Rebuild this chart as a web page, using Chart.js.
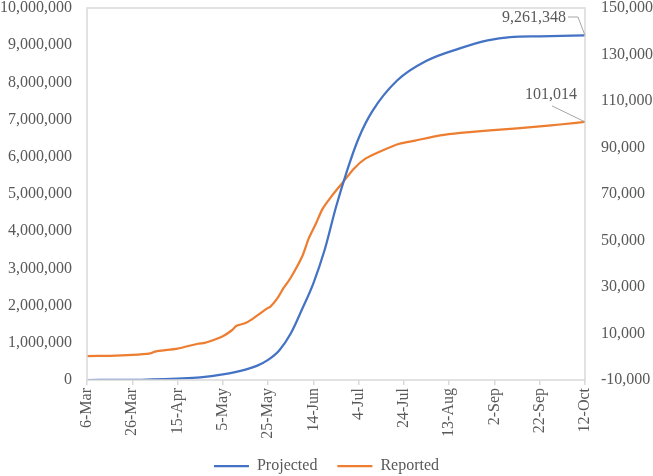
<!DOCTYPE html>
<html>
<head>
<meta charset="utf-8">
<script src="https://cdn.jsdelivr.net/npm/chart.js@4.4.1/dist/chart.umd.min.js"></script>
<style>
  html, body { margin: 0; padding: 0; background: #fff; }
  #wrap { width: 653px; height: 476px; }
</style>
</head>
<body>
<div id="wrap"><canvas id="chart"></canvas></div>
<script>
// x = days since 6-Mar
const dateLabels = ['6-Mar', '26-Mar', '15-Apr', '5-May', '25-May', '14-Jun', '4-Jul', '24-Jul', '13-Aug', '2-Sep', '22-Sep', '12-Oct'];
const dateTicks = [0, 20, 40, 60, 80, 100, 120, 140, 160, 180, 200, 220];

const projDays = [0, 20, 40, 50, 60, 70, 75, 80, 85, 90, 95, 100, 105, 110, 115, 120, 126, 137, 150, 165, 177, 187, 200, 220];
const projValues = [0, 5000, 40000, 70000, 150000, 280000, 380000, 540000, 800000, 1250000, 1900000, 2600000, 3500000, 4650000, 5650000, 6500000, 7220000, 8050000, 8580000, 8920000, 9130000, 9220000, 9240000, 9261348];

const repDays = [0, 10, 20, 28, 30, 40, 49, 52, 55, 60, 64, 66, 70, 73, 77, 80, 81, 84, 87, 90, 95, 98, 101, 104, 108, 113, 118, 123, 130, 138, 145, 156, 165, 178, 190, 200, 210, 220];
const repValues = [300, 400, 800, 1500, 2200, 3500, 5600, 6000, 6900, 8800, 11400, 13300, 14500, 16200, 19000, 21000, 21500, 25000, 29800, 34000, 43000, 51000, 57000, 63500, 69000, 75000, 81000, 85200, 88500, 91600, 93000, 95200, 96300, 97400, 98200, 99100, 100000, 101014];

const leftTicks = [0, 1000000, 2000000, 3000000, 4000000, 5000000, 6000000, 7000000, 8000000, 9000000, 10000000];
const rightTicks = [-10000, 10000, 30000, 50000, 70000, 90000, 110000, 130000, 150000];

const fmt = v => v.toLocaleString('en-US');
const FONT = "'Liberation Serif', 'Times New Roman', serif";
const TXT = '#595959';
const LINE = '#d9d9d9';

// box round the plot area and the two end labels
const extras = {
    id: 'extras',
    afterDatasetsDraw(chart) {
        const { ctx, chartArea: a } = chart;
        ctx.save();
        ctx.strokeStyle = LINE;
        ctx.lineWidth = 1.5;
        ctx.strokeRect(a.left, a.top, a.right - a.left, a.bottom - a.top);

        ctx.font = '16px ' + FONT;
        ctx.fillStyle = TXT;
        ctx.strokeStyle = '#a6a6a6';
        ctx.lineWidth = 1;
        ctx.textBaseline = 'middle';
        ctx.textAlign = 'right';

        const p = chart.getDatasetMeta(0).data.at(-1);
        ctx.fillText(fmt(projValues.at(-1)), p.x - 19, a.top + 10);
        ctx.beginPath();
        ctx.moveTo(p.x - 17, a.top + 9);
        ctx.lineTo(p.x - 7, a.top + 9);
        ctx.lineTo(p.x, p.y);
        ctx.stroke();

        const r = chart.getDatasetMeta(1).data.at(-1);
        ctx.fillText(fmt(repValues.at(-1)), r.x - 8, r.y - 27);
        ctx.beginPath();
        ctx.moveTo(r.x - 33, r.y - 16);
        ctx.lineTo(r.x, r.y);
        ctx.stroke();
        ctx.restore();
    }
};

const yFit = w => s => { s.width = w; s.paddingTop = 8; s.paddingBottom = 0; };

new Chart(document.getElementById('chart'), {
    type: 'line',
    data: {
        datasets: [{
            label: 'Projected',
            data: projDays.map((d, i) => ({ x: d, y: projValues[i] })),
            borderColor: '#4472C4',
            backgroundColor: '#4472C4',
            borderWidth: 2.25,
            pointRadius: 0,
            cubicInterpolationMode: 'monotone',
            yAxisID: 'y'
        }, {
            label: 'Reported',
            data: repDays.map((d, i) => ({ x: d, y: repValues[i] })),
            borderColor: '#ED7D31',
            backgroundColor: '#ED7D31',
            borderWidth: 2.25,
            pointRadius: 0,
            tension: 0.2,
            yAxisID: 'y1'
        }]
    },
    options: {
        responsive: true,
        maintainAspectRatio: false,
        animation: false,
        layout: { padding: { top: 0, bottom: -8 } },
        plugins: {
            tooltip: { enabled: false },
            legend: {
                position: 'bottom',
                labels: {
                    usePointStyle: true,
                    pointStyle: 'line',
                    pointStyleWidth: 35,
                    padding: 20,
                    color: TXT,
                    font: { family: FONT, size: 16 }
                }
            }
        },
        scales: {
            x: {
                type: 'linear',
                min: 0,
                max: 220,
                afterBuildTicks: s => { s.ticks = dateTicks.map(v => ({ value: v })); },
                afterFit: s => { s.height = 58; },
                grid: { drawOnChartArea: false, drawTicks: true, tickLength: 5, color: LINE, lineWidth: 1.5 },
                border: { display: false },
                ticks: {
                    minRotation: 90,
                    maxRotation: 90,
                    padding: 3,
                    color: TXT,
                    font: { family: FONT, size: 16 },
                    callback: v => dateLabels[dateTicks.indexOf(v)]
                }
            },
            y: {
                position: 'left',
                min: 0,
                max: 10000000,
                afterBuildTicks: s => { s.ticks = leftTicks.map(v => ({ value: v })); },
                afterFit: yFit(87),
                grid: { display: false, drawTicks: false },
                border: { display: false },
                ticks: { padding: 15, color: TXT, font: { family: FONT, size: 16 }, callback: v => fmt(v) }
            },
            y1: {
                position: 'right',
                min: -10000,
                max: 150000,
                afterBuildTicks: s => { s.ticks = rightTicks.map(v => ({ value: v })); },
                afterFit: yFit(68),
                grid: { display: false, drawTicks: false },
                border: { display: false },
                ticks: { padding: 16, color: TXT, font: { family: FONT, size: 16 }, callback: v => fmt(v) }
            }
        }
    },
    plugins: [extras]
});
</script>
</body>
</html>
